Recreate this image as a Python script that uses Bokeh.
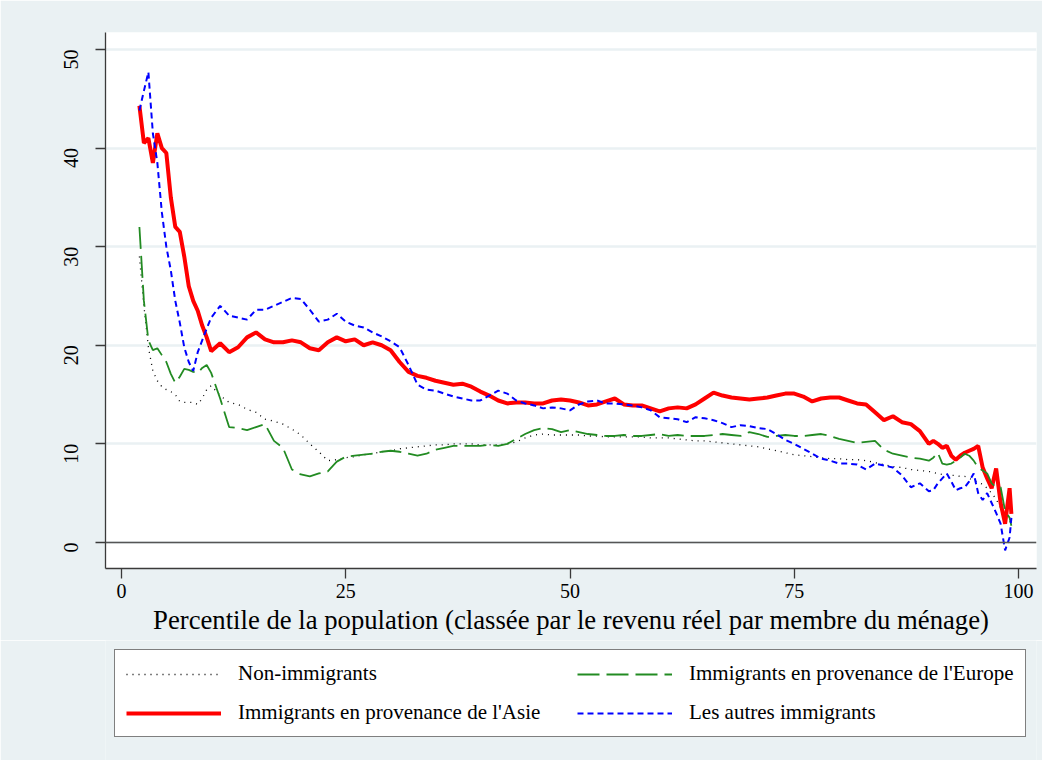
import math
from bokeh.plotting import figure
from bokeh.layouts import column
from bokeh.models import Legend, LegendItem, Span, FixedTicker
from bokeh.embed import file_html
from bokeh.resources import INLINE

# Percentile of the population (x)
pct = [2, 2.5, 3, 3.5, 4, 4.5, 5, 5.5, 6, 6.5, 7, 7.5, 8, 8.5, 9, 9.5, 10,
       11, 12, 13, 14, 15, 16, 17, 18, 19, 20,
       21, 22, 23, 24, 25, 26, 27, 28, 29, 30,
       31, 32, 33, 34, 35, 36, 37, 38, 39, 40,
       41, 42, 43, 44, 45, 46, 47, 48, 49, 50,
       51, 52, 53, 54, 55, 56, 57, 58, 59, 60,
       61, 62, 63, 64, 65, 66, 67, 68, 69, 70,
       71, 72, 73, 74, 75, 76, 77, 78, 79, 80,
       81, 82, 83, 84, 85, 86, 87, 88, 89, 90,
       90.5, 91, 91.5, 92, 92.5, 93, 93.5, 94, 94.5, 95, 95.5, 96, 96.5, 97,
       97.5, 98, 98.5, 99, 99.2]

non_immigrants = [29.0, 24.0, 19.8, 17.4, 16.4, 15.8, 15.5, 15.3, 15.0, 14.3, 14.2, 14.2, 14.2, 14.0, 14.6, 15.5, 15.9,
                  14.9, 14.2, 14.0, 13.5, 13.2, 12.5, 12.3, 12.0, 11.5, 10.9,
                  10.0, 9.2, 8.3, 8.4, 8.6, 8.7, 8.9, 9.0, 9.2, 9.3,
                  9.5, 9.6, 9.7, 9.8, 9.9, 9.9, 10.0, 10.0, 10.0, 9.9,
                  9.9, 9.9, 10.0, 10.2, 10.6, 10.9, 11.0, 10.9, 10.9, 10.9,
                  10.9, 10.8, 10.8, 10.7, 10.7, 10.7, 10.7, 10.7, 10.6, 10.6,
                  10.6, 10.5, 10.4, 10.3, 10.3, 10.2, 10.1, 10.0, 9.9, 9.8,
                  9.7, 9.5, 9.3, 9.1, 8.9, 8.8, 8.7, 8.6, 8.5, 8.5,
                  8.4, 8.4, 8.3, 8.1, 7.9, 7.7, 7.6, 7.4, 7.3, 7.2,
                  7.1, 7.0, 6.9, 6.9, 6.8, 6.8, 6.7, 6.7, 6.5, 6.3, 6.1, 5.9, 5.5, 5.0,
                  4.4, 3.5, 2.8, 2.2, 1.9]

asie = [44.3, 40.5, 41.0, 38.5, 41.5, 40.0, 39.5, 35.0, 32.0, 31.5, 29.0, 26.0, 24.5, 23.5, 22.0, 20.8, 19.4,
        20.2, 19.3, 19.8, 20.8, 21.3, 20.6, 20.3, 20.3, 20.5, 20.3,
        19.7, 19.5, 20.3, 20.8, 20.4, 20.6, 20.0, 20.3, 20.0, 19.5,
        18.3, 17.3, 16.9, 16.7, 16.4, 16.2, 16.0, 16.1, 15.8, 15.3,
        14.9, 14.4, 14.1, 14.2, 14.2, 14.1, 14.1, 14.4, 14.5, 14.4,
        14.2, 13.9, 14.0, 14.3, 14.6, 14.0, 13.9, 13.9, 13.6, 13.3,
        13.6, 13.7, 13.6, 14.0, 14.6, 15.2, 14.9, 14.7, 14.6, 14.5,
        14.6, 14.7, 14.9, 15.1, 15.1, 14.8, 14.3, 14.6, 14.7, 14.7,
        14.4, 14.1, 14.0, 13.2, 12.4, 12.8, 12.2, 12.0, 11.3, 10.0,
        10.3, 10.0, 9.6, 9.8, 8.8, 8.4, 8.8, 9.1, 9.3, 9.5, 9.8, 7.6, 6.5, 5.5,
        7.5, 4.0, 1.9, 5.5, 2.9]

europe = [32.0, 24.5, 20.5, 19.5, 19.7, 19.0, 18.3, 17.1, 16.2, 16.8, 17.6, 17.5, 17.3, 17.2, 17.7, 18.0, 17.2,
          14.6, 11.7, 11.6, 11.4, 11.7, 12.0, 10.3, 9.6, 7.4, 6.9,
          6.7, 7.0, 7.2, 8.2, 8.7, 8.8, 8.9, 9.0, 9.2, 9.3,
          9.2, 9.0, 8.8, 9.0, 9.4, 9.6, 9.8, 9.8, 9.8, 9.8,
          9.9, 9.8, 10.0, 10.5, 11.0, 11.4, 11.6, 11.5, 11.2, 11.4,
          11.2, 11.0, 10.9, 10.8, 10.8, 10.9, 10.8, 10.8, 10.9, 11.0,
          10.8, 10.9, 10.8, 10.8, 10.8, 10.9, 11.0, 10.9, 10.8, 11.2,
          11.0, 10.7, 10.8, 10.9, 10.8, 10.8, 10.9, 11.0, 10.8, 10.5,
          10.3, 10.1, 10.2, 10.3, 9.4, 9.0, 8.8, 8.6, 8.5, 8.3,
          8.6, 9.1, 8.0, 7.9, 8.0, 8.3, 8.6, 9.0, 8.8, 8.3, 7.6, 7.3, 7.0, 6.0,
          5.6, 5.6, 3.2, 2.5, 1.7]

autres = [43.8, 45.8, 47.7, 41.5, 38.5, 33.5, 30.0, 27.6, 24.5, 22.3, 19.8, 18.3, 17.4, 19.3, 20.5, 21.7, 22.8,
          24.0, 23.0, 22.8, 22.6, 23.6, 23.6, 24.0, 24.4, 24.8, 24.7,
          23.6, 22.4, 22.6, 23.2, 22.4, 22.0, 21.8, 21.3, 20.9, 20.4,
          19.8, 18.0, 16.0, 15.5, 15.4, 15.1, 14.8, 14.6, 14.4, 14.4,
          14.9, 15.4, 15.1, 14.4, 14.1, 13.9, 13.6, 13.7, 13.6, 13.4,
          14.0, 14.3, 14.4, 14.1, 14.1, 14.0, 13.9, 13.7, 13.4, 12.7,
          12.6, 12.5, 12.2, 12.7, 12.6, 12.4, 12.1, 11.7, 11.9, 11.8,
          11.6, 11.5, 11.0, 10.4, 10.0, 9.5, 9.0, 8.5, 8.3, 8.0,
          8.0, 7.9, 7.4, 8.0, 7.8, 7.6, 6.8, 5.6, 6.0, 5.2,
          5.3, 6.0, 6.5, 7.0, 6.2, 5.3, 5.5, 5.6, 6.2, 7.0, 5.0, 4.3, 5.0, 4.0,
          3.0, 1.9, -0.8, 0.5, 2.5]

labels = ["Non-immigrants", "Immigrants en provenance de l'Europe",
          "Immigrants en provenance de l'Asie", "Les autres immigrants"]
x_ticks = [0, 25, 50, 75, 100]
y_ticks = [0, 10, 20, 30, 40, 50]
x_title = "Percentile de la population (classée par le revenu réel par membre du ménage)"

BG = "#EAF1F3"
FONT = "Liberation Serif"
W = 1042

STYLES = {
    "non": dict(line_color="black", line_width=1.3, line_dash="1 5"),
    "asie": dict(line_color="#FF0000", line_width=4),
    "eur": dict(line_color="#228B22", line_width=1.8, line_dash="22 7"),
    "aut": dict(line_color="#0000FF", line_width=2, line_dash="6 4"),
}

# ---- main chart ----
p = figure(width=W, height=640, x_range=(-1.78, 102.0), y_range=(-2.64, 51.72),
           output_backend="svg", toolbar_location=None,
           min_border_left=105, min_border_right=6, min_border_top=32, min_border_bottom=72)
p.border_fill_color = BG
p.background_fill_color = "white"
p.outline_line_color = None

p.xgrid.visible = False
p.ygrid.grid_line_color = BG
p.ygrid.grid_line_width = 2.5

p.xaxis.ticker = FixedTicker(ticks=x_ticks)
p.yaxis.ticker = FixedTicker(ticks=y_ticks)
for ax in (p.xaxis, p.yaxis):
    ax.axis_line_color = "#3a3a3a"
    ax.axis_line_width = 1.3
    ax.major_tick_line_color = "#3a3a3a"
    ax.major_tick_line_width = 1.3
    ax.major_tick_out = 10
    ax.major_tick_in = 0
    ax.minor_tick_line_color = None
    ax.major_label_text_font = FONT
    ax.major_label_text_font_size = "20px"
    ax.major_label_text_color = "black"
p.yaxis.major_label_orientation = math.pi / 2
p.yaxis.major_label_standoff = 24
p.xaxis.major_label_standoff = 5
p.xaxis.axis_label = x_title
p.xaxis.axis_label_text_font = FONT
p.xaxis.axis_label_text_font_size = "26.7px"
p.xaxis.axis_label_text_font_style = "normal"
p.xaxis.axis_label_text_color = "black"
p.xaxis.axis_label_standoff = 4

p.add_layout(Span(location=0, dimension="width", line_color="#555555", line_width=1.6))

p.line(pct, non_immigrants, **STYLES["non"])
p.line(pct, asie, **STYLES["asie"])
p.line(pct, europe, **STYLES["eur"])
p.line(pct, autres, **STYLES["aut"])

# ---- legend panel (separate figure below the chart; its series lie outside its range) ----
q = figure(width=W, height=120, x_range=(-1000, -999), y_range=(-1000, -999),
           output_backend="svg", toolbar_location=None,
           min_border_left=0, min_border_right=0, min_border_top=0, min_border_bottom=0)
q.axis.visible = False
q.grid.visible = False
q.outline_line_color = None
q.border_fill_color = BG
q.background_fill_color = BG

l_non = q.line(pct, non_immigrants, **STYLES["non"])
l_asie = q.line(pct, asie, **STYLES["asie"])
l_eur = q.line(pct, europe, **STYLES["eur"])
l_aut = q.line(pct, autres, **STYLES["aut"])

legend = Legend(items=[LegendItem(label=labels[0], renderers=[l_non]),
                       LegendItem(label=labels[1], renderers=[l_eur]),
                       LegendItem(label=labels[2], renderers=[l_asie]),
                       LegendItem(label=labels[3], renderers=[l_aut])],
                orientation="horizontal", ncols=2, location=(9, 23))
legend.label_text_font = FONT
legend.label_text_font_size = "21px"
legend.label_text_color = "black"
legend.glyph_width = 95
legend.glyph_height = 24
legend.label_height = 24
legend.label_width = 325
legend.label_standoff = 17
legend.spacing = 14
legend.padding = 11
legend.margin = 0
legend.border_line_color = "black"
legend.border_line_width = 1
legend.background_fill_color = "white"
legend.background_fill_alpha = 1
q.add_layout(legend, "center")

layout = column(p, q, spacing=0)
open("out.html", "w").write(file_html(layout, INLINE))
